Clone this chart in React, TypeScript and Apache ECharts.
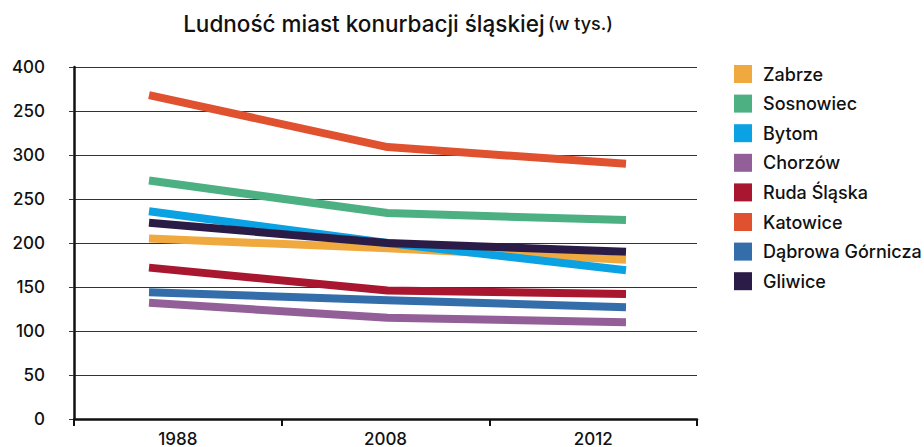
import React, { useEffect, useRef } from "react";
import * as echarts from "echarts";

const years = ["1988", "2008", "2012"];
const yTickLabels = ["0", "50", "100", "150", "200", "250", "300", "250", "400"];

const cities = [
  "Zabrze",
  "Sosnowiec",
  "Bytom",
  "Chorzów",
  "Ruda Śląska",
  "Katowice",
  "Dąbrowa Górnicza",
  "Gliwice",
];

const zabrze = [205, 194, 181];
const sosnowiec = [271, 234, 226];
const bytom = [236, 200, 169];
const chorzow = [132, 115, 110];
const rudaSlaska = [172, 146, 142];
const katowice = [368, 309, 290];
const dabrowa = [144, 135, 127];
const gliwice = [223, 200, 190];

const seriesValues = [zabrze, sosnowiec, bytom, chorzow, rudaSlaska, katowice, dabrowa, gliwice];
const colors = ["#F0A93F", "#4DB082", "#0AA2E2", "#935F99", "#A8172F", "#E0512F", "#336DAA", "#2A1C47"];

const FONT = "Inter, 'Noto Sans', sans-serif";

export default function App() {
  const ref = useRef<HTMLDivElement>(null);
  useEffect(() => {
    if (!ref.current) return;
    const chart = echarts.init(ref.current, undefined, { renderer: "svg" });
    chart.setOption({
      animation: false,
      textStyle: { fontFamily: FONT },
      grid: { left: 74, right: 227, top: 67, bottom: 28, containLabel: false },
      graphic: [
        {
          type: "text",
          x: 398,
          y: 23,
          style: {
            text: "{a|Ludność miast konurbacji śląskiej} {b|(w tys.)}",
            align: "center",
            verticalAlign: "middle",
            rich: {
              a: { fontSize: 22.5, fontFamily: FONT, fill: "#111", fontWeight: 500 },
              b: { fontSize: 18, fontFamily: FONT, fill: "#111", fontWeight: 500 },
            },
          },
        },
      ],
      legend: {
        orient: "vertical",
        left: 734,
        top: 65,
        padding: 0,
        icon: "rect",
        itemWidth: 18,
        itemHeight: 18,
        itemGap: 11.6,
        data: cities,
        textStyle: {
          fontSize: 18,
          fontFamily: FONT,
          fontWeight: 500,
          color: "#111",
          padding: [0, 0, 0, 6],
          lineHeight: 18,
        },
      },
      xAxis: [
        {
          type: "category",
          data: years,
          boundaryGap: true,
          axisLine: { show: true, onZero: false, lineStyle: { color: "#111", width: 2.5 } },
          axisTick: { show: true, length: 7, interval: 0, lineStyle: { color: "#111", width: 2 } },
          axisLabel: { fontSize: 17, color: "#111", margin: 11, fontFamily: FONT, fontWeight: 500 },
          splitLine: { show: false },
        },
        {
          type: "value",
          min: -0.3145,
          max: 2.2977,
          show: false,
          splitLine: { show: false },
        },
      ],
      yAxis: {
        type: "value",
        min: 0,
        max: 400,
        interval: 50,
        axisLine: { show: true, onZero: false, lineStyle: { color: "#111", width: 2.5 } },
        axisTick: { show: true, length: 5, lineStyle: { color: "#333", width: 1 } },
        axisLabel: {
          fontSize: 17,
          color: "#111",
          margin: 29,
          fontFamily: FONT,
          fontWeight: 500,
          formatter: (v: number) => yTickLabels[Math.round(v / 50)] ?? String(v),
        },
        splitLine: { show: true, lineStyle: { color: "#333", width: 1 } },
      },
      series: cities.map((name, i) => ({
        name,
        type: "line",
        xAxisIndex: 1,
        data: seriesValues[i].map((v, j) => [j, v]),
        showSymbol: false,
        symbol: "none",
        color: colors[i],
        lineStyle: { width: 8, color: colors[i], cap: "butt", join: "round" },
        emphasis: { disabled: true },
      })),
    });
    return () => chart.dispose();
  }, []);
  return <div ref={ref} style={{ width: 924, height: 447, position: "absolute", left: 0, top: 0 }} />;
}
